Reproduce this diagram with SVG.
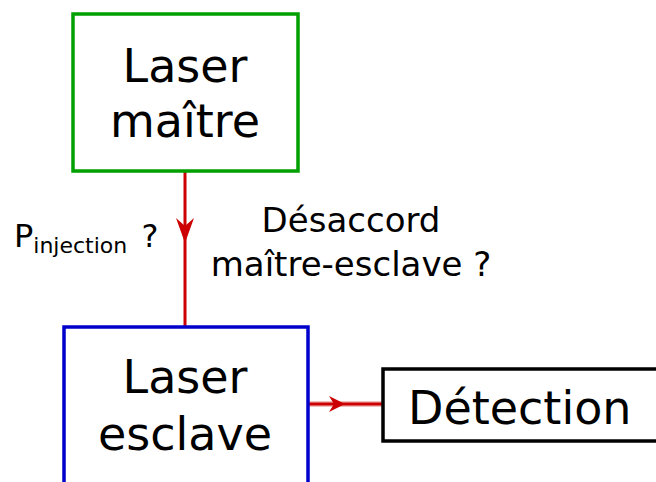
<svg xmlns="http://www.w3.org/2000/svg" width="656" height="482" viewBox="0 0 656 482">
<style>
text{font-family:"DejaVu Sans","Liberation Sans",sans-serif;fill:#000}
.big{font-size:46px;text-anchor:middle}
.mid{font-size:34px;text-anchor:middle}
.box{fill:#fff;stroke-width:3.5}
.wire{stroke:#cc0000;stroke-width:3;fill:none}
</style>
<g id="connectors">
<line class="wire" x1="185" y1="172" x2="185" y2="326"/>
<path d="M176,218 L185,243 L194,218 L185,226 Z" fill="#cc0000"/>
<line x1="309" y1="404" x2="382" y2="404" stroke="#cc0000" stroke-opacity="0.25" stroke-width="6"/>
<line class="wire" x1="309" y1="404" x2="382" y2="404"/>
<path d="M329,396 L345,404 L329,412 L334,404 Z" fill="#cc0000"/>
</g>
<g id="laser-maitre">
<rect class="box" x="73" y="14" width="225" height="157" stroke="#00a000"/>
<text class="big" x="185" y="82">Laser</text>
<text class="big" x="185" y="137">maître</text>
</g>
<g id="laser-esclave">
<rect class="box" x="64" y="327" width="244" height="170" stroke="#0000cc"/>
<text class="big" x="185" y="393">Laser</text>
<text class="big" x="185" y="450">esclave</text>
</g>
<g id="detection">
<rect class="box" x="383" y="369" width="290" height="72" stroke="#000"/>
<text x="408" y="424" style="font-size:46px">Détection</text>
</g>
<g id="labels">
<text class="mid" x="351" y="232">Désaccord</text>
<text class="mid" x="351" y="276">maître-esclave ?</text>
<text x="14" y="247" style="font-size:32px">P<tspan dy="6" style="font-size:22px">injection</tspan><tspan dx="4" dy="-6"> ?</tspan></text>
</g>
</svg>
